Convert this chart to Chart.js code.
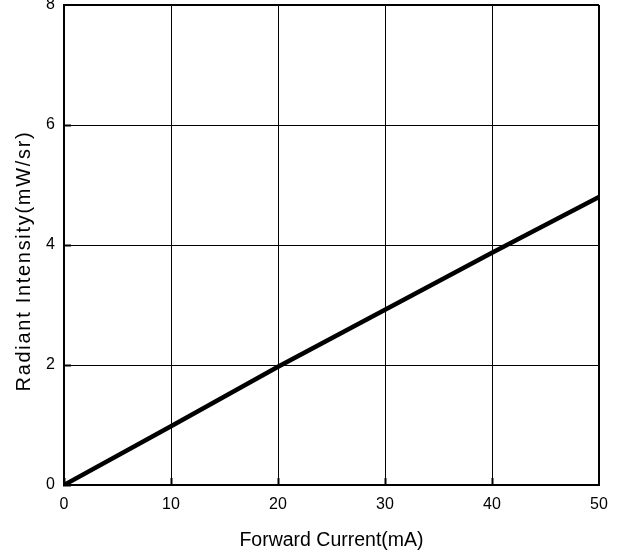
<!DOCTYPE html>
<html>
<head>
<meta charset="utf-8">
<script src="https://cdn.jsdelivr.net/npm/chart.js@4/dist/chart.umd.min.js"></script>
<style>
  body { margin: 0; background: #fff; }
</style>
</head>
<body>
<canvas id="radiant_intensity" width="620" height="560"></canvas>
<script>
// forward current (mA) vs radiant intensity (mW/sr)
const current_ma = [0, 10, 20, 30, 40, 50];
const intensity_mw_sr = [0, 0.98, 1.97, 2.92, 3.87, 4.8];
const x_ticks = [0, 10, 20, 30, 40, 50];
const y_ticks = [0, 2, 4, 6, 8];

const FONT = "'Liberation Sans', Arial, sans-serif";

// spaced-out, slightly lowered y axis title like the original
const spacedTitle = {
  id: 'spacedTitle',
  beforeDraw(chart) {
    const s = chart.scales.y;
    if (s._spaced) return;
    const orig = s.drawTitle;
    s.drawTitle = function() {
      const ctx = this.ctx;
      ctx.save();
      ctx.translate(0, 16);
      ctx.letterSpacing = '1.7px';
      orig.apply(this, arguments);
      ctx.restore();
    };
    s._spaced = true;
  }
};

const ctx = document.getElementById('radiant_intensity');

const chart = new Chart(ctx, {
  type: 'line',
  plugins: [spacedTitle],
  data: {
    datasets: [{
      data: current_ma.map((c, i) => ({x: c, y: intensity_mw_sr[i]})),
      borderColor: '#000',
      borderWidth: 4.5,
      pointRadius: 0,
      tension: 0,
      fill: false
    }]
  },
  options: {
    responsive: false,
    animation: false,
    layout: {padding: {top: 5, right: 21, left: 0, bottom: 0}},
    plugins: {legend: {display: false}, tooltip: {enabled: false}},
    scales: {
      x: {
        type: 'linear',
        min: 0, max: 50,
        afterBuildTicks: (scale) => { scale.ticks = x_ticks.map(v => ({value: v})); },
        afterFit: (scale) => { scale.height = 75; scale.paddingLeft = 0; scale.paddingRight = 0; },
        ticks: {color: '#000', font: {family: FONT, size: 16}, padding: 17, maxRotation: 0},
        grid: {
          color: '#000',
          lineWidth: (c) => c.tick && c.tick.value === 50 ? 2 : 1,
          tickLength: -7, tickWidth: 2, tickColor: '#000'
        },
        border: {color: '#000', width: 2},
        title: {display: true, text: 'Forward Current(mA)', color: '#000',
          font: {family: FONT, size: 19.5}, padding: {top: 0, bottom: 8}}
      },
      y: {
        min: 0, max: 8,
        afterBuildTicks: (scale) => { scale.ticks = y_ticks.map(v => ({value: v})); },
        afterFit: (scale) => { scale.width = 64; scale.paddingTop = 0; scale.paddingBottom = 0; },
        ticks: {color: '#000', font: {family: FONT, size: 16}, padding: 16},
        grid: {
          color: '#000',
          lineWidth: (c) => c.tick && c.tick.value === 8 ? 2 : 1,
          tickLength: -7, tickWidth: 2, tickColor: '#000'
        },
        border: {color: '#000', width: 2},
        title: {display: true, text: 'Radiant Intensity(mW/sr)', color: '#000',
          font: {family: FONT, size: 20}, padding: {top: 12, bottom: 0}}
      }
    }
  }
});
</script>
</body>
</html>
